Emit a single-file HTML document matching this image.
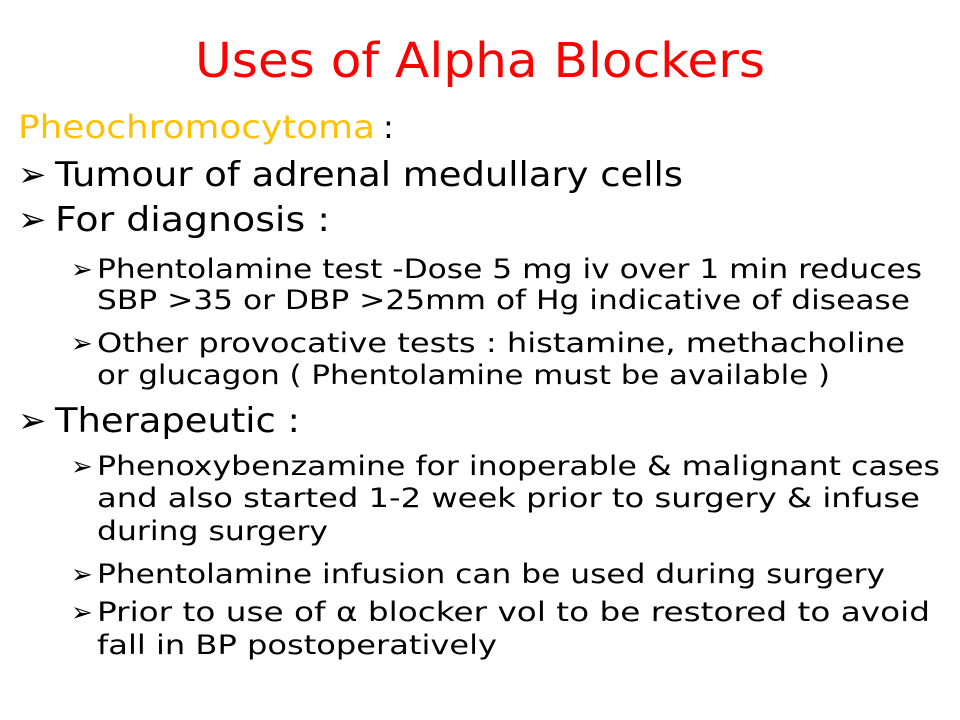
<!DOCTYPE html>
<html><head><meta charset="utf-8"><style>
html,body{margin:0;padding:0;background:#fff;}
svg{display:block;}
text{font-family:"DejaVu Sans","Liberation Sans",sans-serif;fill:#000;}
</style></head><body>
<svg width="960" height="720" viewBox="0 0 960 720">
<rect width="960" height="720" fill="#fff"/>
<text x="195" y="77" font-size="48" textLength="570" lengthAdjust="spacingAndGlyphs" style="fill:#ff0000">Uses of Alpha Blockers</text>
<text x="18" y="138" font-size="32"><tspan style="fill:#ffc000" textLength="357" lengthAdjust="spacingAndGlyphs">Pheochromocytoma</tspan><tspan x="383">:</tspan></text>

<g font-size="34" font-weight="bold">
<text x="18" y="186">➢</text>
<text x="18" y="231">➢</text>
<text x="18" y="432">➢</text>
</g>
<text x="55" y="186" font-size="34" textLength="628" lengthAdjust="spacingAndGlyphs">Tumour of adrenal medullary cells</text>
<text x="55" y="231" font-size="34" textLength="275" lengthAdjust="spacingAndGlyphs">For diagnosis :</text>
<text x="55" y="432" font-size="34" textLength="245" lengthAdjust="spacingAndGlyphs">Therapeutic :</text>

<g font-size="26" font-weight="bold">
<text x="71" y="278">➢</text>
<text x="71" y="352">➢</text>
<text x="71" y="475">➢</text>
<text x="71" y="583">➢</text>
<text x="71" y="621">➢</text>
</g>
<g font-size="27">
<text x="97" y="278" textLength="825" lengthAdjust="spacingAndGlyphs">Phentolamine test -Dose 5 mg iv over 1 min reduces</text>
<text x="97" y="309" textLength="813" lengthAdjust="spacingAndGlyphs">SBP &gt;35 or DBP &gt;25mm of Hg indicative of disease</text>
<text x="97" y="352" textLength="808" lengthAdjust="spacingAndGlyphs">Other provocative tests : histamine, methacholine</text>
<text x="97" y="384" textLength="733" lengthAdjust="spacingAndGlyphs">or glucagon ( Phentolamine must be available )</text>
<text x="97" y="475" textLength="843" lengthAdjust="spacingAndGlyphs">Phenoxybenzamine for inoperable  &amp; malignant cases</text>
<text x="97" y="507" textLength="823" lengthAdjust="spacingAndGlyphs">and also started 1-2 week prior to surgery &amp; infuse</text>
<text x="97" y="540" textLength="231" lengthAdjust="spacingAndGlyphs">during surgery</text>
<text x="97" y="583" textLength="788" lengthAdjust="spacingAndGlyphs">Phentolamine infusion can be used during surgery</text>
<text x="97" y="621" textLength="833" lengthAdjust="spacingAndGlyphs">Prior to use of α blocker vol to be restored to avoid</text>
<text x="97" y="654" textLength="400" lengthAdjust="spacingAndGlyphs">fall in BP postoperatively</text>
</g>
</svg>
</body></html>
